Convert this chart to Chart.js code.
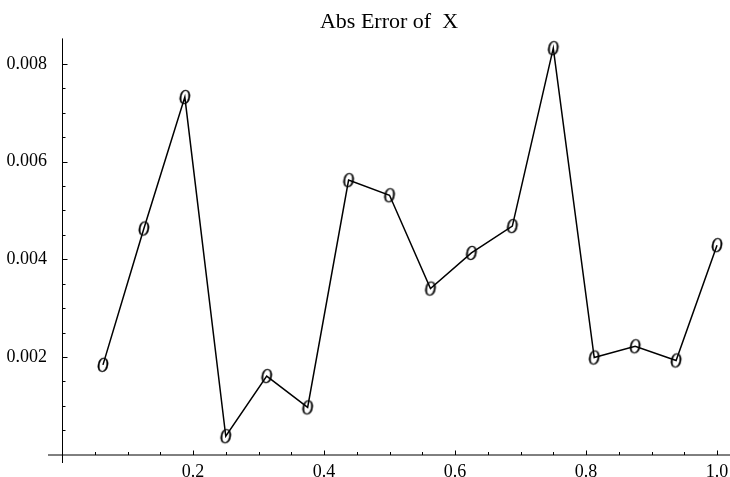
<!DOCTYPE html>
<html>
<head>
<meta charset="utf-8">
<script src="https://cdn.jsdelivr.net/npm/chart.js@4.4.1/dist/chart.umd.min.js"></script>
<style>
  html, body { margin: 0; padding: 0; background: #fff; }
  canvas { display: block; }
</style>
</head>
<body>
<canvas id="errChart" width="730" height="477"></canvas>
<script>
// sample positions and abs error values
const xValues = [0.0625, 0.125, 0.1875, 0.25, 0.3125, 0.375, 0.4375, 0.5,
                 0.5625, 0.625, 0.6875, 0.75, 0.8125, 0.875, 0.9375, 1.0];
const errValues = [0.00184, 0.00463, 0.00732, 0.00038, 0.00161, 0.00097, 0.00562, 0.00531,
                   0.00340, 0.00413, 0.00468, 0.00832, 0.00199, 0.00222, 0.00193, 0.00429];

// ticks
const xMajorTicks = [0.2, 0.4, 0.6, 0.8, 1.0];
const xTickLabels = ['0.2', '0.4', '0.6', '0.8', '1.0'];
const xMinorTicks = [0.05, 0.1, 0.15, 0.25, 0.3, 0.35, 0.45, 0.5, 0.55, 0.65, 0.7, 0.75,
                     0.85, 0.9, 0.95];
const yMajorTicks = [0.002, 0.004, 0.006, 0.008];
const yTickLabels = ['0.002', '0.004', '0.006', '0.008'];
const yMinorTicks = [0.0005, 0.001, 0.0015, 0.0025, 0.003, 0.0035, 0.0045, 0.005, 0.0055,
                     0.0065, 0.007, 0.0075];

// italic "O" used as plot symbol
function makeMarker() {
  const c = document.createElement('canvas');
  c.width = 18; c.height = 20;
  const g = c.getContext('2d');
  g.font = 'italic 20px "Liberation Serif"';
  g.fillStyle = '#000';
  g.strokeStyle = '#000';
  g.lineWidth = 0.4;
  const m = g.measureText('O');
  const w = m.actualBoundingBoxLeft + m.actualBoundingBoxRight;
  const h = m.actualBoundingBoxAscent + m.actualBoundingBoxDescent;
  g.translate(9, 10);
  g.scale(0.8, 1);
  const tx = -w / 2 + m.actualBoundingBoxLeft, ty = h / 2 - m.actualBoundingBoxDescent;
  g.fillText('O', tx, ty);
  g.strokeText('O', tx, ty);
  return c;
}

// axes through the origin with inward ticks, Mathematica style
const originAxes = {
  id: 'originAxes',
  beforeDatasetsDraw(chart) {
    const { ctx, chartArea } = chart;
    const xs = chart.scales.x, ys = chart.scales.y;
    const x0 = Math.round(xs.getPixelForValue(0)) + 0.5;
    const y0 = Math.round(ys.getPixelForValue(0));
    ctx.save();
    ctx.strokeStyle = '#000';
    ctx.lineWidth = 1;
    ctx.beginPath();
    ctx.moveTo(chartArea.left, y0);
    ctx.lineTo(chartArea.right, y0);
    ctx.moveTo(x0, chartArea.top);
    ctx.lineTo(x0, chartArea.bottom);
    ctx.stroke();

    ctx.beginPath();
    xMajorTicks.forEach(v => {
      const px = Math.round(xs.getPixelForValue(v)) + 0.5;
      ctx.moveTo(px, y0); ctx.lineTo(px, y0 - 4.5);
    });
    xMinorTicks.forEach(v => {
      const px = Math.round(xs.getPixelForValue(v)) + 0.5;
      ctx.moveTo(px, y0); ctx.lineTo(px, y0 - 3);
    });
    yMajorTicks.forEach(v => {
      const py = Math.round(ys.getPixelForValue(v)) + 0.5;
      ctx.moveTo(x0, py); ctx.lineTo(x0 + 5, py);
    });
    yMinorTicks.forEach(v => {
      const py = Math.round(ys.getPixelForValue(v)) + 0.5;
      ctx.moveTo(x0, py); ctx.lineTo(x0 + 3, py);
    });
    ctx.stroke();
    ctx.restore();
  }
};

const tickFont = { family: '"Liberation Serif", serif', size: 18 };

new Chart(document.getElementById('errChart'), {
  type: 'line',
  data: {
    datasets: [{
      data: xValues.map((x, i) => ({ x: x, y: errValues[i] })),
      borderColor: '#000',
      borderWidth: 1.5,
      tension: 0,
      fill: false,
      pointStyle: makeMarker(),
      pointRadius: 8,
      clip: false
    }]
  },
  options: {
    responsive: false,
    animation: false,
    layout: { padding: 0, autoPadding: false },
    plugins: {
      legend: { display: false },
      tooltip: { enabled: false },
      title: {
        display: true,
        text: 'Abs Error of  X',
        fullSize: false,
        color: '#000',
        font: { family: '"Liberation Serif", serif', size: 22, weight: 'normal' },
        padding: { top: 9, bottom: 3 }
      }
    },
    scales: {
      x: {
        type: 'linear',
        min: -0.0214,
        max: 1.0198,
        grid: { display: false, drawTicks: false },
        border: { display: false },
        afterBuildTicks: s => { s.ticks = xMajorTicks.map(v => ({ value: v })); },
        afterFit: s => { s.height = 14; s.paddingLeft = 0; s.paddingRight = 0; },
        ticks: {
          color: '#000',
          font: tickFont,
          padding: -2,
          maxRotation: 0,
          callback: (v, i) => xTickLabels[i]
        }
      },
      y: {
        type: 'linear',
        min: -0.000168,
        max: 0.00852,
        grid: { display: false, drawTicks: false },
        border: { display: false },
        afterBuildTicks: s => { s.ticks = yMajorTicks.map(v => ({ value: v })); },
        afterFit: s => { s.width = 48; s.paddingTop = 0; s.paddingBottom = 0; },
        ticks: {
          color: '#000',
          font: tickFont,
          padding: 1,
          callback: (v, i) => yTickLabels[i]
        }
      }
    }
  },
  plugins: [originAxes]
});
</script>
</body>
</html>
